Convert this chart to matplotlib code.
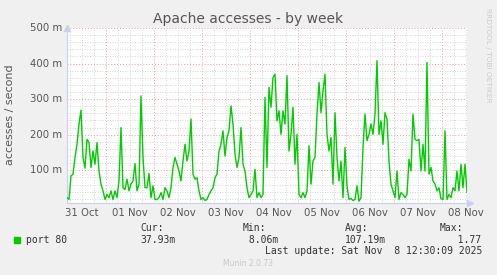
#!/usr/bin/env python3
"""Munin style weekly chart: Apache accesses."""
import matplotlib
matplotlib.use("Agg")
import matplotlib.pyplot as plt
from matplotlib.ticker import MultipleLocator, FixedLocator

# hourly values in milli-accesses/s, starting 31 Oct 04:30
values_m = [
    23, 18, 84, 89, 136, 173, 230, 269, 136, 106,
    187, 178, 108, 154, 117, 178, 98, 61, 42, 18,
    32, 23, 42, 18, 42, 23, 70, 220, 51, 46,
    75, 42, 61, 70, 119, 42, 61, 309, 136, 51,
    51, 91, 23, 56, 18, 18, 23, 37, 18, 51,
    42, 23, 51, 108, 136, 117, 98, 70, 126, 173,
    126, 154, 244, 89, 75, 79, 42, 18, 23, 15,
    18, 32, 42, 51, 79, 89, 154, 173, 211, 140,
    192, 211, 281, 230, 145, 108, 136, 220, 117, 98,
    51, 23, 32, 42, 103, 23, 37, 23, 32, 305,
    108, 333, 277, 361, 370, 239, 267, 201, 267, 230,
    366, 154, 201, 277, 117, 201, 32, 23, 37, 23,
    42, 169, 61, 126, 136, 258, 347, 262, 323, 370,
    201, 154, 192, 61, 262, 136, 70, 126, 23, 164,
    56, 18, 21, 15, 18, 56, 13, 23, 164, 258,
    183, 201, 230, 201, 258, 408, 201, 239, 173, 262,
    244, 126, 61, 42, 23, 98, 18, 37, 32, 23,
    32, 131, 98, 258, 187, 183, 187, 98, 173, 98,
    403, 89, 108, 70, 61, 42, 51, 20, 18, 211,
    18, 32, 23, 51, 42, 98, 42, 117, 51, 117,
    38,
]
start_hour = 4.5  # hours after 31 Oct 00:00
day_labels = ["31 Oct", "01 Nov", "02 Nov", "03 Nov", "04 Nov",
              "05 Nov", "06 Nov", "07 Nov", "08 Nov"]
y_ticks = [100, 200, 300, 400, 500]
legend_name = "port 80"
stat_heads = ["Cur:", "Min:", "Avg:", "Max:"]
stat_values = ["37.93m", " 8.06m", "107.19m", "   1.77"]
last_update = "Last update: Sat Nov  8 12:30:09 2025"

W, H = 497, 275
fig = plt.figure(figsize=(W / 100, H / 100), dpi=100, facecolor="#f0f0f0")
ax = fig.add_axes([67 / W, 72 / H, 400 / W, 175 / H])
ax.set_facecolor("white")

hours = [start_hour + i for i in range(len(values_m))]
ax.plot(hours, values_m, color="#00cc00", lw=1.0, zorder=3)

x0, x1 = start_hour, start_hour + 200
ax.set_xlim(x0, x1)
ax.set_ylim(8, 500)

# grid: red major (days / 100m), grey minor (6h / 20m)
ax.xaxis.set_major_locator(FixedLocator([24 * d for d in range(1, 9)]))
ax.xaxis.set_minor_locator(MultipleLocator(6))
ax.yaxis.set_major_locator(FixedLocator(y_ticks))
ax.yaxis.set_minor_locator(MultipleLocator(20))
ax.grid(which="minor", color="#c8c8c8", lw=0.6, ls=(0, (1, 2)), zorder=1)
ax.grid(which="major", color="#eba0a0", lw=0.7, ls=(0, (1, 2)), zorder=2)
ax.tick_params(which="both", length=0, labelbottom=False, labelleft=False)

for s in ("top", "right"):
    ax.spines[s].set_visible(False)
for s in ("left", "bottom"):
    ax.spines[s].set_color("#c8cff0")
    ax.spines[s].set_linewidth(0.8)
ax.plot([x0], [500], marker="^", ms=4, color="#c8cff0", clip_on=False)
ax.plot([x1 + 1.5], [8], marker=">", ms=4, color="#c8cff0", clip_on=False)

grey = "#555555"
for i, lab in enumerate(day_labels):
    ax.text(12 + 24 * i, -5, lab, ha="center", va="top", fontsize=7.3, color=grey)
for v in y_ticks:
    ax.text(x0 - 2.2, v, f"{v} m", ha="right", va="center", fontsize=7.3, color=grey)

fig.text(248 / W, 1 - 19 / H, "Apache accesses - by week", ha="center", va="center",
         fontsize=10, color=grey)
fig.text(10 / W, 1 - 115 / H, "accesses / second", ha="center", va="center",
         rotation=90, fontsize=8, color=grey)
fig.text(488 / W, 1 - 55 / H, "RRDTOOL / TOBI OETIKER", ha="center", va="center",
         rotation=270, fontsize=5.3, color="#cccccc")

mono = "DejaVu Sans Mono"
fig.patches.append(plt.Rectangle((14 / W, 1 - 242.5 / H), 6 / W, 6 / H,
                                 transform=fig.transFigure, color="#00cc00"))
fig.text(26 / W, 1 - 240 / H, legend_name, family=mono, fontsize=7, color="#333333",
         va="center")
for head, val, xs in zip(stat_heads, stat_values, [140, 243, 345, 440]):
    fig.text(xs / W, 1 - 228 / H, head, family=mono, fontsize=7, color="#333333", va="center")
    fig.text(xs / W, 1 - 240 / H, val, family=mono, fontsize=7, color="#333333", va="center")
fig.text(482 / W, 1 - 251 / H, last_update, family=mono, fontsize=7, color="#333333",
         ha="right", va="center")
fig.text(248 / W, 1 - 264 / H, "Munin 2.0.73", fontsize=5.5, color="#c8c8c8",
         ha="center", va="center")

fig.savefig("out.png", dpi=100, facecolor=fig.get_facecolor())
